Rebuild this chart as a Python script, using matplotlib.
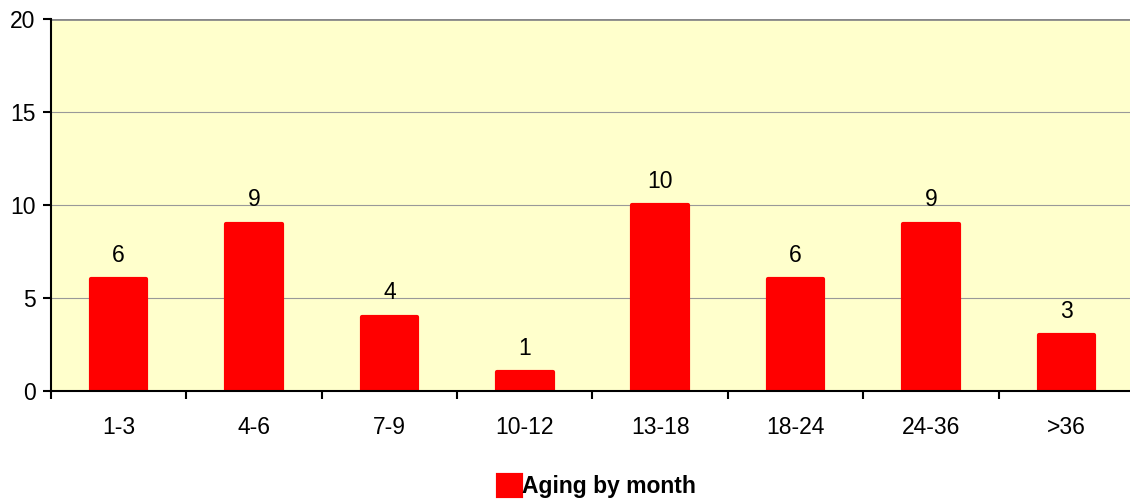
import matplotlib.pyplot as plt
import numpy as np

plt.rcParams['font.family'] = ['Liberation Sans', 'DejaVu Sans']

categories = ['1-3', '4-6', '7-9', '10-12', '13-18', '18-24', '24-36', '>36']
counts = [6, 9, 4, 1, 10, 6, 9, 3]

fig = plt.figure(figsize=(11.3, 5.04), dpi=100)
ax = fig.add_axes([0.0451, 0.2242, 0.9584, 0.7381])
ax.set_facecolor('#FFFFCC')

x = np.arange(len(categories))
bars = ax.bar(x, counts, width=0.41, color='#FF0000', edgecolor='#FF0000',
              linewidth=3, joinstyle='round', zorder=3, label='Aging by month')
for xi, v in zip(x, counts):
    ax.annotate(str(v), (xi, v), xytext=(0, 12.5), textcoords='offset points',
                ha='center', va='baseline', fontsize=16.5)

ax.set_xlim(-0.5, len(categories) - 0.5)
ax.set_ylim(0, 20)
ax.set_yticks([0, 5, 10, 15, 20])
ax.yaxis.grid(True, color='#999999', linewidth=0.8, zorder=0)
ax.set_axisbelow(True)
ax.axhline(20, color='#888888', linewidth=2, zorder=2)

ax.set_xticks(x)
ax.set_xticklabels(categories)
ax.set_xticks(np.arange(len(categories) + 1) - 0.5, minor=True)
ax.tick_params(axis='x', which='major', length=0, pad=18, labelsize=16.5)
ax.tick_params(axis='x', which='minor', length=6, width=1.5, direction='out')
ax.tick_params(axis='y', length=6, width=1.5, labelsize=16.5, pad=5)

for s in ['top', 'right']:
    ax.spines[s].set_visible(False)
for s in ['left', 'bottom']:
    ax.spines[s].set_linewidth(1.5)
    ax.spines[s].set_zorder(4)

fig.legend(handles=[bars], labels=['Aging by month'], loc='center', bbox_to_anchor=(0.528, 0.034),
           frameon=False, handlelength=1.0, handleheight=1.0, handletextpad=0.05,
           prop={'weight': 'bold', 'size': 16.5})

fig.savefig('out.png', dpi=100)
